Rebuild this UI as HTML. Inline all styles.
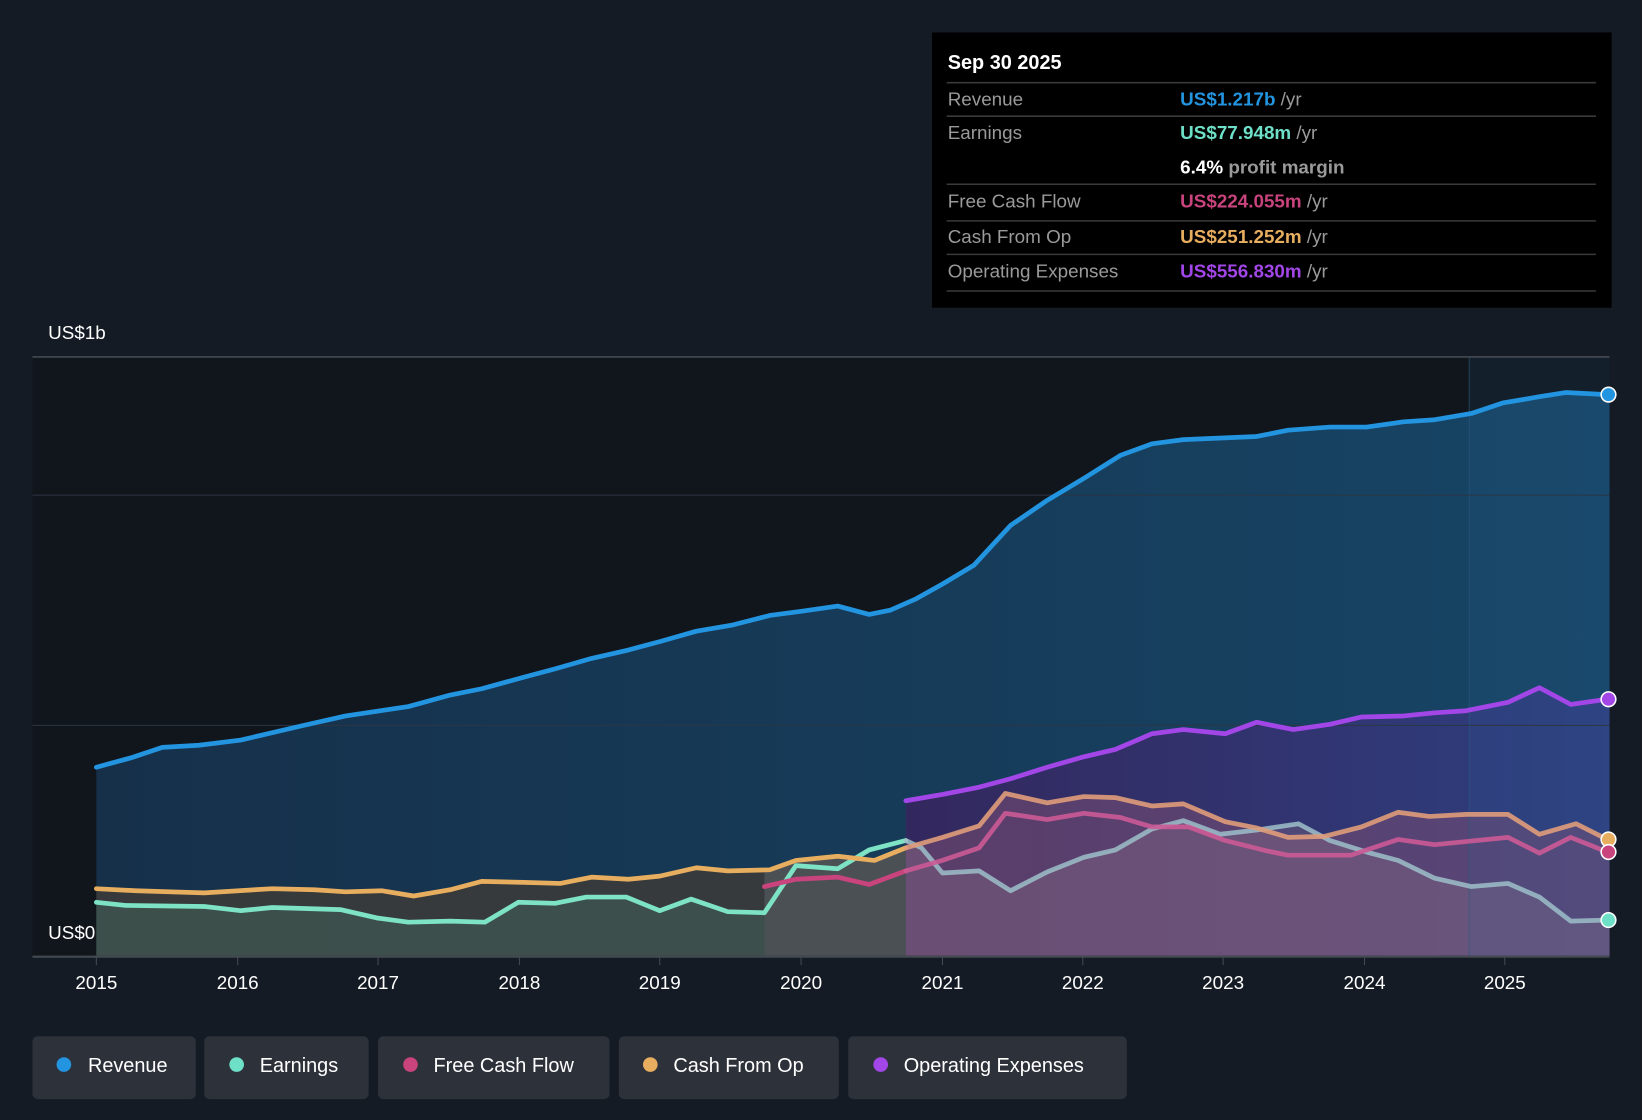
<!DOCTYPE html>
<html><head><meta charset="utf-8"><style>
html,body{margin:0;padding:0;background:#151b24;}
svg{display:block;font-family:"Liberation Sans",sans-serif;}
</style></head><body>
<svg width="1642" height="1120" viewBox="0 0 1568 1070" preserveAspectRatio="none" xmlns="http://www.w3.org/2000/svg">
<defs>
<linearGradient id="rev" x1="0" y1="0" x2="1" y2="0"><stop offset="0" stop-color="#16304a"/><stop offset="1" stop-color="#174566"/></linearGradient>
<linearGradient id="opx" x1="0" y1="0" x2="1" y2="0"><stop offset="0" stop-color="#33285e"/><stop offset="1" stop-color="#2f3f80"/></linearGradient>
</defs>
<rect width="1568" height="1070" fill="#151b24"/>
<rect x="31" y="341" width="1506" height="572" fill="#11151c"/>
<!-- revenue area -->
<polygon fill="url(#rev)" points="92,913 92,733 125,724 155,714 190,712 230,707 290,693 330,684 390,675 430,664 460,658 500,647 530,639 565,629 600,621 630,613 665,603 700,597 735,588 765,584 800,579 830,587 850,583 875,572 900,558 930,540 965,502 1000,478 1035,457 1070,435 1100,424 1130,420 1200,417 1230,411 1270,408 1305,408 1340,403 1370,401 1405,395 1435,385 1470,379 1495,375 1535,377 1537,377 1537,913"/>
<!-- opex area -->
<polygon fill="url(#opx)" points="865,913 865,765 900,759 935,752 965,744 1000,733 1035,723 1065,716 1100,701 1130,697 1170,701 1200,690 1235,697 1270,692 1300,685 1340,684 1370,681 1400,679 1440,671 1470,657 1500,673 1537,668 1537,913"/>
<!-- cfo area pre -->
<polygon fill="#3b3b3a" opacity="0.9" points="92,913 92,849 130,851 195,853 260,849 300,850 330,852 365,851 395,856 430,850 460,842 500,843 535,844 565,838 600,840 630,837 665,829 695,832 730,831 730,913"/>
<polygon fill="#555" opacity="0.85" points="730,913 730,831 760,822 800,818 835,822 865,810 865,913"/>
<polygon fill="#7a4f72" opacity="0.55" points="865,913 865,810 900,800 935,789 960,758 1000,767 1035,761 1065,762 1100,770 1130,768 1170,785 1200,791 1230,800 1265,799 1300,790 1335,776 1365,780 1400,778 1440,778 1470,797 1505,787 1537,802 1537,913"/>
<!-- earnings area pre -->
<polygon fill="#3d5550" opacity="0.8" points="92,913 92,862 120,865 195,866 230,870 260,867 325,869 360,877 390,881 430,880 463,881 495,862 530,863 560,857 598,857 630,870 660,859 695,871 730,872 730,913"/>
<polygon fill="#8a7088" opacity="0.35" points="865,913 865,803 880,810 900,834 935,832 965,851 1000,833 1035,819 1065,812 1100,792 1130,784 1165,797 1200,793 1240,787 1270,803 1305,814 1335,822 1370,839 1405,847 1440,844 1470,857 1500,880 1537,879 1537,913"/>
<!-- forecast shade -->
<rect x="1403" y="341" width="134" height="572" fill="#2a6a9a" opacity="0.12"/>
<line x1="1403" y1="341" x2="1403" y2="913" stroke="#2a5a80" stroke-width="1" opacity="0.6"/>
<!-- grid -->
<line x1="31" y1="341" x2="1537" y2="341" stroke="#444a52" stroke-width="1.5"/>
<line x1="31" y1="473" x2="1537" y2="473" stroke="#2c3644" stroke-width="1"/>
<line x1="31" y1="693" x2="1537" y2="693" stroke="#2c3644" stroke-width="1"/>
<line x1="31" y1="914" x2="1537" y2="914" stroke="#444a52" stroke-width="2"/>
<g stroke="#444a52" stroke-width="1">
<line x1="92" y1="914" x2="92" y2="922"/><line x1="227" y1="914" x2="227" y2="922"/><line x1="361" y1="914" x2="361" y2="922"/><line x1="496" y1="914" x2="496" y2="922"/><line x1="630" y1="914" x2="630" y2="922"/><line x1="765" y1="914" x2="765" y2="922"/><line x1="900" y1="914" x2="900" y2="922"/><line x1="1034" y1="914" x2="1034" y2="922"/><line x1="1168" y1="914" x2="1168" y2="922"/><line x1="1303" y1="914" x2="1303" y2="922"/><line x1="1437" y1="914" x2="1437" y2="922"/>
</g>
<!-- lines -->
<g fill="none" stroke-width="4.5" stroke-linejoin="round" stroke-linecap="round">
<polyline stroke="#2394df" points="92,733 125,724 155,714 190,712 230,707 290,693 330,684 390,675 430,664 460,658 500,647 530,639 565,629 600,621 630,613 665,603 700,597 735,588 765,584 800,579 830,587 850,583 875,572 900,558 930,540 965,502 1000,478 1035,457 1070,435 1100,424 1130,420 1200,417 1230,411 1270,408 1305,408 1340,403 1370,401 1405,395 1435,385 1470,379 1495,375 1535,377"/>
<polyline stroke="#7de3c4" points="92,862 120,865 195,866 230,870 260,867 325,869 360,877 390,881 430,880 463,881 495,862 530,863 560,857 598,857 630,870 660,859 695,871 730,872 760,827 800,830 830,812 865,803"/>
<polyline stroke="#9dbfca" opacity="0.85" points="865,803 880,810 900,834 935,832 965,851 1000,833 1035,819 1065,812 1100,792 1130,784 1165,797 1200,793 1240,787 1270,803 1305,814 1335,822 1370,839 1405,847 1440,844 1470,857 1500,880 1535,879"/>
<polyline stroke="#e8ae5f" points="92,849 130,851 195,853 260,849 300,850 330,852 365,851 395,856 430,850 460,842 500,843 535,844 565,838 600,840 630,837 665,829 695,832 735,831 760,822 800,818 835,822 865,810"/>
<polyline stroke="#e09c7a" opacity="0.9" points="865,810 900,800 935,789 960,758 1000,767 1035,761 1065,762 1100,770 1130,768 1170,785 1200,791 1230,800 1265,799 1300,790 1335,776 1365,780 1400,778 1440,778 1470,797 1505,787 1535,802"/>
<polyline stroke="#c9437d" points="730,847 760,840 800,838 830,845 865,832"/>
<polyline stroke="#cc5a96" opacity="0.9" points="865,832 900,822 935,810 960,777 1000,783 1035,777 1070,781 1100,790 1135,790 1170,803 1210,813 1230,817 1290,817 1335,802 1370,807 1400,804 1440,800 1470,815 1500,800 1535,814"/>
<polyline stroke="#a346e8" points="865,765 900,759 935,752 965,744 1000,733 1035,723 1065,716 1100,701 1130,697 1170,701 1200,690 1235,697 1270,692 1300,685 1340,684 1370,681 1400,679 1440,671 1470,657 1500,673 1535,668"/>
</g>
<g stroke="#fff" stroke-width="1.5">
<circle cx="1536" cy="377" r="7" fill="#2394df"/>
<circle cx="1536" cy="668" r="7" fill="#a346e8"/>
<circle cx="1536" cy="802" r="7" fill="#e8ae5f"/>
<circle cx="1536" cy="814" r="7" fill="#c9437d"/>
<circle cx="1536" cy="879" r="7" fill="#6ee0c8"/>
</g>
<text x="46" y="324" fill="#fff" font-size="18">US$1b</text>
<text x="46" y="897" fill="#fff" font-size="18">US$0</text>
<g fill="#fff" font-size="18" text-anchor="middle">
<text x="92" y="945">2015</text><text x="227" y="945">2016</text><text x="361" y="945">2017</text><text x="496" y="945">2018</text><text x="630" y="945">2019</text><text x="765" y="945">2020</text><text x="900" y="945">2021</text><text x="1034" y="945">2022</text><text x="1168" y="945">2023</text><text x="1303" y="945">2024</text><text x="1437" y="945">2025</text>
</g>
<!-- tooltip -->
<rect x="890" y="31" width="649" height="263" fill="#000"/>
<text x="905" y="66" fill="#fff" font-size="19" font-weight="bold">Sep 30 2025</text>
<g stroke="#3a3a3a" stroke-width="1.5">
<line x1="904" y1="79" x2="1524" y2="79"/><line x1="904" y1="111" x2="1524" y2="111"/><line x1="904" y1="176" x2="1524" y2="176"/><line x1="904" y1="211" x2="1524" y2="211"/><line x1="904" y1="243" x2="1524" y2="243"/><line x1="904" y1="278" x2="1524" y2="278"/>
</g>
<g font-size="18" fill="#9a9a9a">
<text x="905" y="101">Revenue</text>
<text x="905" y="133">Earnings</text>
<text x="905" y="198">Free Cash Flow</text>
<text x="905" y="232">Cash From Op</text>
<text x="905" y="265">Operating Expenses</text>
</g>
<g font-size="18" font-weight="bold">
<text x="1127" y="101"><tspan fill="#2394df">US$1.217b</tspan><tspan fill="#9a9a9a" font-weight="normal"> /yr</tspan></text>
<text x="1127" y="133"><tspan fill="#6ee0c8">US$77.948m</tspan><tspan fill="#9a9a9a" font-weight="normal"> /yr</tspan></text>
<text x="1127" y="166"><tspan fill="#fff">6.4%</tspan><tspan fill="#9a9a9a"> profit margin</tspan></text>
<text x="1127" y="198"><tspan fill="#c9437d">US$224.055m</tspan><tspan fill="#9a9a9a" font-weight="normal"> /yr</tspan></text>
<text x="1127" y="232"><tspan fill="#e8ae5f">US$251.252m</tspan><tspan fill="#9a9a9a" font-weight="normal"> /yr</tspan></text>
<text x="1127" y="265"><tspan fill="#a346e8">US$556.830m</tspan><tspan fill="#9a9a9a" font-weight="normal"> /yr</tspan></text>
</g>
<!-- legend -->
<g fill="#2d313a">
<rect x="31" y="990" width="156" height="60" rx="5"/>
<rect x="195" y="990" width="157" height="60" rx="5"/>
<rect x="361" y="990" width="221" height="60" rx="5"/>
<rect x="591" y="990" width="210" height="60" rx="5"/>
<rect x="810" y="990" width="266" height="60" rx="5"/>
</g>
<circle cx="61" cy="1017" r="7" fill="#2394df"/>
<circle cx="226" cy="1017" r="7" fill="#6ee0c8"/>
<circle cx="392" cy="1017" r="7" fill="#c9437d"/>
<circle cx="621" cy="1017" r="7" fill="#e8ae5f"/>
<circle cx="841" cy="1017" r="7" fill="#a346e8"/>
<g fill="#fff" font-size="19">
<text x="84" y="1024">Revenue</text>
<text x="248" y="1024">Earnings</text>
<text x="414" y="1024">Free Cash Flow</text>
<text x="643" y="1024">Cash From Op</text>
<text x="863" y="1024">Operating Expenses</text>
</g>
</svg>
</body></html>
